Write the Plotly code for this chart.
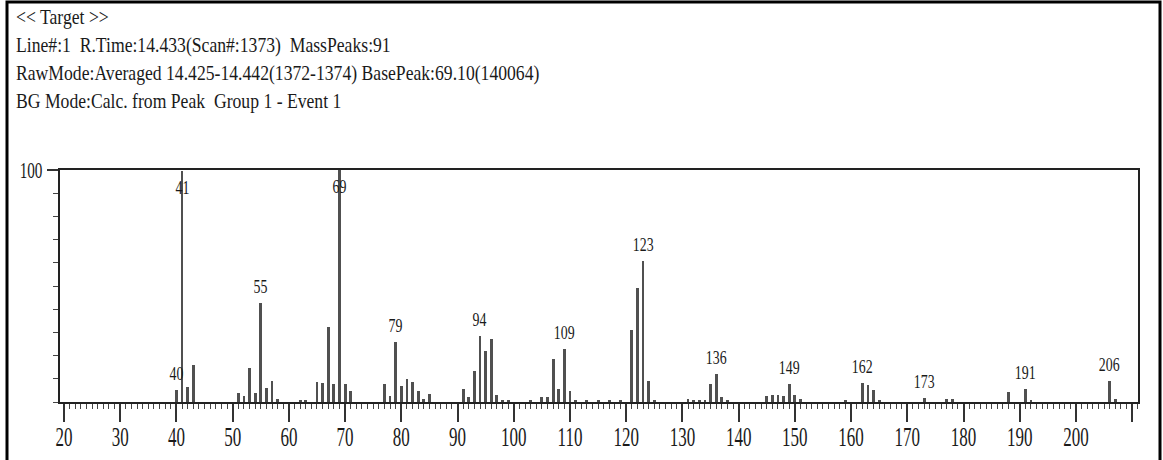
import json
import plotly.graph_objects as go

# ---- spectrum data (m/z, relative intensity %) ----
mz = [40, 41, 42, 43, 51, 52, 53, 54, 55, 56, 57, 58, 62, 63,
      65, 66, 67, 68, 69, 70, 71, 77, 78, 79, 80, 81, 82, 83, 84, 85,
      91, 92, 93, 94, 95, 96, 97, 98, 99, 103, 105, 106, 107, 108, 109, 110, 111,
      113, 115, 117, 119, 121, 122, 123, 124, 125,
      131, 132, 133, 134, 135, 136, 137, 138,
      145, 146, 147, 148, 149, 150, 151, 159, 162, 163, 164, 165,
      173, 177, 178, 188, 191, 192, 206, 207]
intensity = [5.2, 99.5, 6.6, 16.0, 4.0, 2.7, 14.8, 3.7, 42.5, 5.9, 9.2, 1.5, 1.0, 1.0,
             8.8, 8.1, 32.5, 7.8, 100.0, 7.8, 4.7, 7.8, 2.4, 26.0, 6.7, 10.0, 8.5, 4.7, 1.5, 3.5,
             5.7, 2.0, 13.3, 28.5, 21.9, 27.2, 3.2, 1.0, 1.0, 1.0, 2.0, 2.0, 18.5, 5.7, 22.8, 4.7, 1.0,
             1.0, 0.8, 1.0, 1.0, 31.0, 49.0, 60.6, 9.0, 1.0,
             1.5, 1.0, 1.0, 1.0, 7.8, 11.9, 2.0, 1.0,
             2.5, 3.0, 3.0, 2.5, 7.8, 3.0, 1.5, 1.0, 8.2, 7.5, 5.0, 1.0,
             1.8, 1.5, 1.5, 4.2, 5.5, 1.0, 9.0, 1.5]
labelled_mz = [40, 41, 55, 69, 79, 94, 109, 123, 136, 149, 162, 173, 191, 206]

x_ticks = list(range(20, 211, 10))
x_tick_text = [str(v) for v in x_ticks[:-1]] + [""]
x_mid_ticks = list(range(25, 211, 10))

header_lines = [
    "<< Target >>",
    "Line#:1  R.Time:14.433(Scan#:1373)  MassPeaks:91",
    "RawMode:Averaged 14.425-14.442(1372-1374) BasePeak:69.10(140064)",
    "BG Mode:Calc. from Peak  Group 1 - Event 1",
]

# ---- page geometry (pixels) ----
W, H = 1163, 460
L, R, T, B = 60, 1138, 170, 402
X_RANGE = [20 - 4 / 5.622, 20 + (R - 64) / 5.622]


def px(x):
    return (x - L) / (R - L)


def py(y):
    return (B - y) / (B - T)


FONT = "Liberation Serif, Times New Roman, serif"
INK = "#1a1a1a"
HEAD_SIZE, PEAK_SIZE, XTICK_SIZE, YTICK_SIZE = 21, 19, 27, 23
# horizontal condensing applied to text of each font size
SQUEEZE = {HEAD_SIZE: 0.84, PEAK_SIZE: 0.73, XTICK_SIZE: 0.63, YTICK_SIZE: 0.66}

fig = go.Figure()
fig.add_trace(go.Bar(
    x=mz, y=intensity, width=0.5,
    marker=dict(color="#505050", line=dict(width=0)),
    hoverinfo="x+y", showlegend=False,
))

annotations = []
inten_of = dict(zip(mz, intensity))
for m in labelled_mz:
    v = inten_of[m]
    top = v > 90
    annotations.append(dict(
        x=m, y=v, xref="x", yref="y", text=str(m), showarrow=False,
        yanchor="top" if top else "bottom", yshift=-4 if top else 4,
        font=dict(family=FONT, size=PEAK_SIZE, color=INK),
    ))

for i, line in enumerate(header_lines):
    annotations.append(dict(
        x=px(14), y=py(17 + 28 * i), xref="paper", yref="paper",
        xanchor="left", yanchor="middle", align="left",
        text=line.replace("<", "&lt;").replace(">", "&gt;"), showarrow=False,
        font=dict(family=FONT, size=HEAD_SIZE, color=INK),
    ))

shapes = [
    # outer frame of the page
    dict(type="rect", xref="paper", yref="paper",
         x0=px(7), x1=px(1160), y0=py(470), y1=py(2),
         line=dict(color="black", width=3), fillcolor="rgba(0,0,0,0)", layer="above"),
]

fig.update_layout(
    width=W, height=H,
    margin=dict(l=L, r=W - R, t=T, b=H - B, pad=0, autoexpand=False),
    paper_bgcolor="white", plot_bgcolor="white",
    bargap=0, showlegend=False,
    annotations=annotations, shapes=shapes,
    font=dict(family=FONT, size=XTICK_SIZE, color=INK),
    xaxis=dict(
        range=X_RANGE, showgrid=False, zeroline=False, automargin=False,
        showline=True, linecolor="#222", linewidth=2, mirror=True,
        tickmode="array", tickvals=x_ticks, ticktext=x_tick_text,
        ticks="outside", ticklen=18, tickwidth=1.6, tickcolor="#333",
        ticklabelstandoff=-8,
        tickfont=dict(family=FONT, size=XTICK_SIZE, color=INK),
        minor=dict(dtick=1, tick0=0, ticks="outside", ticklen=5,
                   tickwidth=1.2, tickcolor="#444", showgrid=False),
    ),
    xaxis2=dict(
        range=X_RANGE, overlaying="x", anchor="y", side="bottom", automargin=False,
        showgrid=False, zeroline=False, showline=False,
        tickmode="array", tickvals=x_mid_ticks, showticklabels=False,
        ticks="outside", ticklen=12, tickwidth=1.4, tickcolor="#333",
    ),
    yaxis=dict(
        range=[0, 100], showgrid=False, zeroline=False, automargin=False,
        showline=True, linecolor="#222", linewidth=2, mirror=True,
        tickmode="array", tickvals=[100], ticktext=["100"],
        ticks="outside", ticklen=11, tickwidth=1.6, tickcolor="#333",
        tickfont=dict(family=FONT, size=YTICK_SIZE, color=INK),
        minor=dict(dtick=10, tick0=0, ticks="outside", ticklen=5,
                   tickwidth=1.4, tickcolor="#444", showgrid=False),
    ),
)

# narrow the glyphs horizontally (condensed typeface look)
post = """
(function(){
  var sq = %s;
  var gd = document.getElementById('{plot_id}');
  function squeeze(){
    gd.querySelectorAll('text').forEach(function(t){
      if (t.getAttribute('data-sq')) return;
      var fs = Math.round(parseFloat(t.style.fontSize || '0'));
      var f = sq[fs];
      if (!f || !t.textContent) return;
      var len = t.getComputedTextLength();
      if (!len) return;
      t.setAttribute('textLength', (len * f).toFixed(2));
      t.setAttribute('lengthAdjust', 'spacingAndGlyphs');
      t.setAttribute('data-sq', '1');
    });
  }
  squeeze();
  gd.on('plotly_afterplot', squeeze);
})();
""" % json.dumps(SQUEEZE)

fig.write_html("out.html", post_script=post)
